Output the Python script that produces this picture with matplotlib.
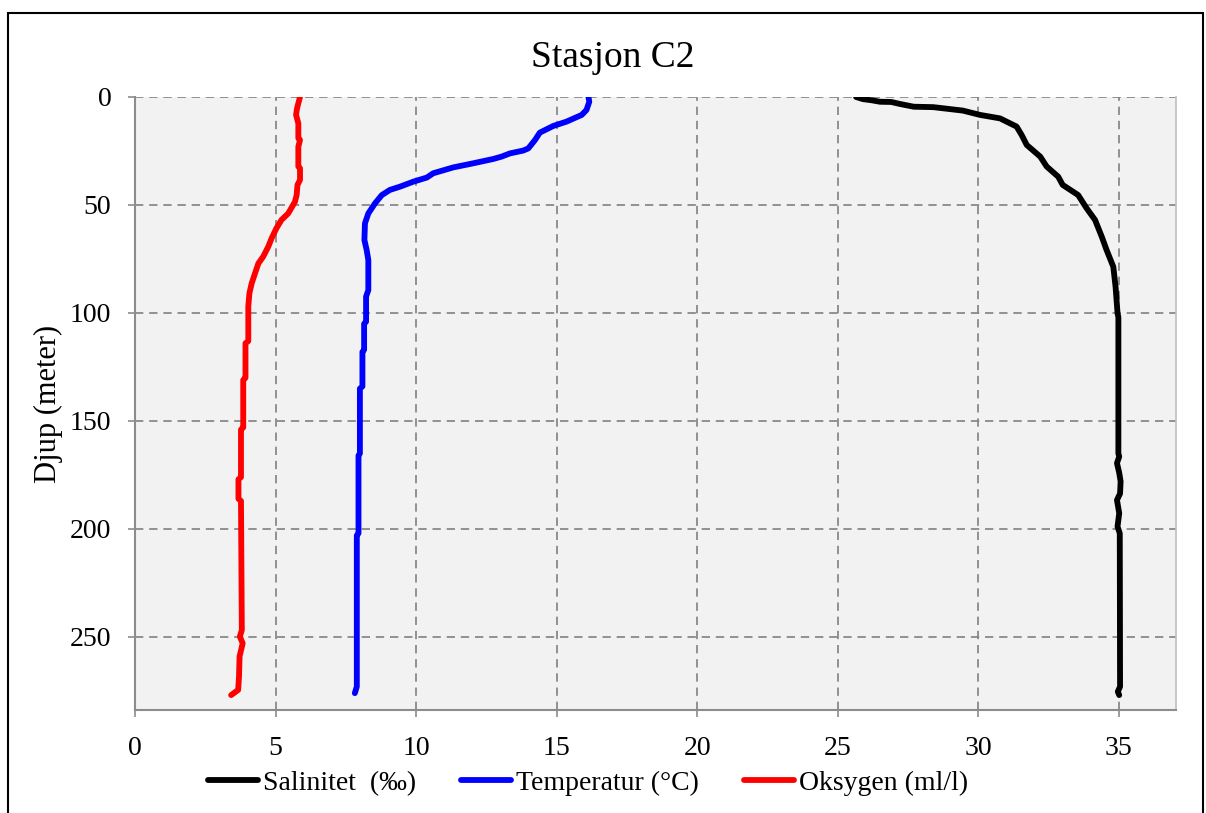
import matplotlib.pyplot as plt
from matplotlib.patches import Rectangle

plt.rcParams['font.family'] = ['Liberation Serif', 'DejaVu Serif']

# Salinity profile (depth in m, salinity in permille)
sal_depth = [0, 1.0, 1.5, 2.2, 2.3, 3.2, 4.5, 4.7, 6.3, 8.3, 9.9, 13.7, 17.6, 22.2,
             27.6, 32.2, 36.9, 40.7, 45.4, 51.5, 56.9, 64.7, 70.8, 78.6, 87.8, 100,
             102, 165, 166.5, 169.5, 174, 178, 183.6, 186.6, 192.7, 198.9, 202, 273,
             275.3, 276.9]
sal_value = [25.65, 25.9, 26.2, 26.5, 26.9, 27.2, 27.7, 28.4, 29.45, 30.06, 30.77,
             31.36, 31.54, 31.72, 32.2, 32.43, 32.84, 33.0, 33.55, 33.85, 34.15,
             34.39, 34.56, 34.8, 34.88, 34.95, 34.98, 34.98, 35.01, 34.93, 35.01,
             35.06, 35.04, 34.93, 35.01, 34.95, 35.03, 35.04, 34.96, 35.01]

# Temperature profile (degC)
temp_depth = [0, 2.2, 6.0, 8.3, 11.4, 13.4, 16.5, 19.9, 23.8, 24.8, 26.1, 27.6, 28.7,
              30.7, 32.6, 35.3, 37.3, 39.2, 41.5, 43, 45.4, 49.2, 53.9, 58.5, 66.2,
              70.8, 75.5, 89.4, 92.4, 104, 105, 117, 118, 134, 135, 165, 166, 202,
              203, 273, 276]
temp_value = [16.13, 16.16, 16.06, 15.89, 15.35, 14.88, 14.4, 14.23, 13.99, 13.81,
              13.34, 13.04, 12.74, 12.03, 11.32, 10.61, 10.38, 9.9, 9.43, 9.07, 8.78,
              8.54, 8.3, 8.18, 8.16, 8.24, 8.3, 8.3, 8.22, 8.22, 8.15, 8.15, 8.09,
              8.09, 8.0, 8.0, 7.95, 7.95, 7.89, 7.89, 7.82]

# Oxygen profile (ml/l)
oxy_depth = [0, 2.9, 5.5, 8.3, 12.2, 19.1, 19.9, 23, 32.2, 33, 38.4, 40.7, 45.4, 48.5,
             53.9, 56.9, 60.8, 65.4, 69.3, 73.9, 77, 81.6, 86.3, 90.9, 97, 113, 114,
             130, 131, 153, 154, 176, 177, 186, 187, 246.8, 249.8, 252.9, 259, 268.3,
             274.5, 276.9]
oxy_value = [5.87, 5.81, 5.76, 5.73, 5.81, 5.81, 5.87, 5.81, 5.81, 5.87, 5.87, 5.78,
             5.75, 5.69, 5.45, 5.21, 5.03, 4.86, 4.74, 4.56, 4.39, 4.27, 4.15, 4.07,
             4.03, 4.03, 3.93, 3.93, 3.85, 3.85, 3.77, 3.77, 3.68, 3.68, 3.77, 3.8,
             3.73, 3.83, 3.72, 3.70, 3.67, 3.42]

fig = plt.figure(figsize=(12.06, 8.13), dpi=100)
ax = fig.add_axes([135/1206, 1-710/813, (1176-135)/1206, (710-97)/813])
ax.set_facecolor('#F2F2F2')

ax.plot(sal_value, sal_depth, color='black', lw=4.2, solid_capstyle='round',
        solid_joinstyle='round', label='Salinitet  (‰)')
ax.plot(temp_value, temp_depth, color='#0000FF', lw=4.2, solid_capstyle='round',
        solid_joinstyle='round', label='Temperatur (°C)')
ax.plot(oxy_value, oxy_depth, color='#FF0000', lw=4.2, solid_capstyle='round',
        solid_joinstyle='round', label='Oksygen (ml/l)')

ax.set_xlim(0, 37.03)
ax.set_ylim(283.8, 0)
ax.set_xticks(range(0, 36, 5))
ax.set_yticks(range(0, 251, 50))
ax.grid(True, color='#808080', linestyle=(0, (5, 3.5)), lw=1.2)
ax.set_axisbelow(True)

for s in ['left', 'bottom']:
    ax.spines[s].set_color('#8C8C8C')
    ax.spines[s].set_linewidth(1.5)
ax.spines['top'].set_visible(False)
ax.spines['right'].set_color('#BFBFBF')
ax.spines['right'].set_linewidth(1.2)

ax.tick_params(axis='x', direction='out', length=5, width=1.2, color='#8C8C8C',
               labelsize=20, pad=14)
ax.tick_params(axis='y', direction='out', length=5, width=1.2, color='#8C8C8C',
               labelsize=20, pad=12)

# title is centred on the whole chart area, not on the plot area
fig.text(613/1206, 1-67/813, 'Stasjon C2', fontsize=27, ha='center', va='baseline')
ax.set_ylabel('Djup (meter)', fontsize=22, labelpad=5)

fig.legend(loc='center', bbox_to_anchor=(588/1206, 1-783/813), ncol=3,
           frameon=False, fontsize=20, handlelength=1.8, handletextpad=0.2,
           columnspacing=1.6)

# outer chart border
fig.patches.append(Rectangle((8/1206, -0.1), (1203-8)/1206, 1.1-13/813,
                             transform=fig.transFigure, fill=False,
                             edgecolor='black', lw=1.5))

fig.savefig('out.png', dpi=100)
